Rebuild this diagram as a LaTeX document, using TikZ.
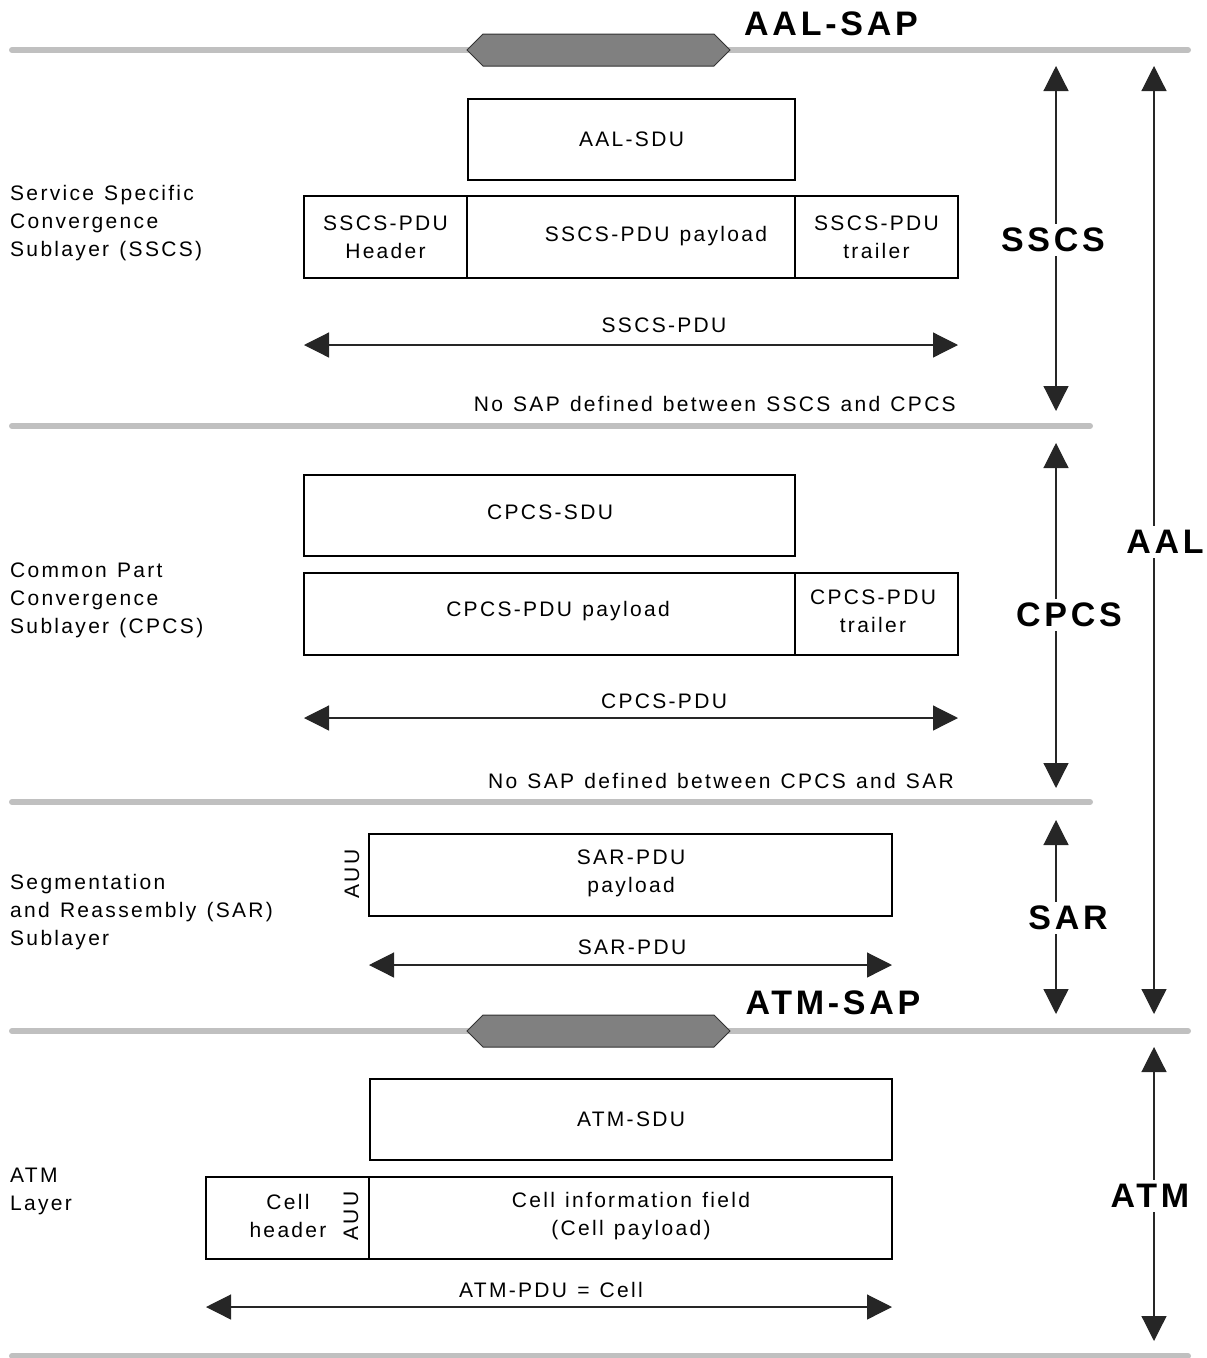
\documentclass[tikz,border=0pt]{standalone}
\usepackage{fontspec}
\setmainfont{Liberation Sans}[LetterSpace=11, WordSpace=1.25]
\newfontfamily\layerfont{Liberation Sans}[LetterSpace=11]
\usetikzlibrary{arrows.meta}
\definecolor{sapgray}{HTML}{C0C0C0}
\definecolor{hexgray}{HTML}{808080}
\tikzset{
  every picture/.style={x=1pt, y=-1pt},
  cell/.style={draw, line width=1.1pt, inner sep=0pt, outer sep=0pt, align=center,
    font=\fontsize{21}{28}\selectfont},
  txt/.style={inner sep=0pt, align=center, font=\fontsize{21}{28}\selectfont},
  sidetxt/.style={txt, align=left, anchor=west},
  layerlab/.style={inner sep=4pt, fill=white, font=\layerfont\bfseries\fontsize{34}{40}\selectfont},
  saplab/.style={inner sep=0pt, font=\layerfont\bfseries\fontsize{34}{40}\selectfont},
  sapline/.style={line width=6pt, color=sapgray, line cap=round},
  sapmark/.style={fill=hexgray, draw=black!80, line width=1pt},
  span/.style={line width=1.2pt, draw=black!85,
    {Triangle[length=25pt,width=25pt]}-{Triangle[length=25pt,width=25pt]}},
}
\begin{document}
\begin{tikzpicture}
\path[use as bounding box] (0,0) rectangle (1207,1358);

% service access point boundaries
\draw[sapline] (12,50) -- (1188,50);
\draw[sapline] (12,426) -- (1090,426);
\draw[sapline] (12,802) -- (1090,802);
\draw[sapline] (12,1031) -- (1188,1031);
\draw[sapline] (12,1356) -- (1188,1356);

% SAP markers
\draw[sapmark] (467,50) -- (483,34) -- (714,34) -- (730,50) -- (714,66) -- (483,66) -- cycle;
\draw[sapmark] (467,1031) -- (483,1015) -- (714,1015) -- (730,1031) -- (714,1047) -- (483,1047) -- cycle;
\node[saplab] (aalsap) at (831,24) {AAL-SAP};
\node[saplab] (atmsap) at (833,1003) {ATM-SAP};

% sublayer names
\node[sidetxt] (sscsname) at (10,223) {Service Specific\\Convergence\\Sublayer (SSCS)};
\node[sidetxt] (cpcsname) at (10,600) {Common Part\\Convergence\\Sublayer (CPCS)};
\node[sidetxt] (sarname) at (10,912) {Segmentation\\and Reassembly (SAR)\\Sublayer};
\node[sidetxt] (atmname) at (10,1191) {ATM\\Layer};

% SSCS
\node[cell, minimum width=327, minimum height=81] (aalsdu) at (631.5,139.5) {AAL-SDU};
\node[cell, minimum width=163, minimum height=82] (sscshdr) at (385.5,237) {SSCS-PDU\\Header};
\node[cell, minimum width=328, minimum height=82] (sscspay) at (631,237) {};
\node[cell, minimum width=163, minimum height=82] (sscstrl) at (876.5,237) {SSCS-PDU\\trailer};
\node[txt] (sscspaytxt) at (656,236) {SSCS-PDU payload};
\coordinate (sscsL) at (304,345);
\coordinate (sscsR) at (958,345);
\draw[span] (sscsL) -- (sscsR);
\node[txt] (sscspdu) at (664,325) {SSCS-PDU};
\node[txt, anchor=east] (nosap1) at (956,404) {No SAP defined between SSCS and CPCS};

% CPCS
\node[cell, minimum width=491, minimum height=81] (cpcssdu) at (549.5,515.5) {};
\node[txt] (cpcssdutxt) at (550,512) {CPCS-SDU};
\node[cell, minimum width=491, minimum height=82] (cpcspay) at (549.5,614) {};
\node[txt] (cpcspaytxt) at (558,611) {CPCS-PDU payload};
\node[cell, minimum width=163, minimum height=82] (cpcstrl) at (876.5,614) {};
\node[txt] (cpcstrltxt) at (873,611) {CPCS-PDU\\trailer};
\coordinate (cpcsL) at (304,718);
\coordinate (cpcsR) at (958,718);
\draw[span] (cpcsL) -- (cpcsR);
\node[txt] (cpcspdu) at (664,701) {CPCS-PDU};
\node[txt, anchor=east] (nosap2) at (954,781) {No SAP defined between CPCS and SAR};

% SAR
\node[cell, minimum width=523, minimum height=82] (sarpay) at (630.5,875) {};
\node[txt] (sarpaytxt) at (631,873) {SAR-PDU\\payload};
\node[txt, rotate=90] (auu1) at (352,874) {AUU};
\coordinate (sarL) at (369,965);
\coordinate (sarR) at (892,965);
\draw[span] (sarL) -- (sarR);
\node[txt] (sarpdu) at (632,947) {SAR-PDU};

% ATM layer
\node[cell, minimum width=522, minimum height=81] (atmsdu) at (631,1119.5) {ATM-SDU};
\node[cell, minimum width=163, minimum height=82] (cellhdr) at (287.5,1218) {};
\node[txt] (cellhdrtxt) at (288,1216) {Cell\\header};
\node[cell, minimum width=523, minimum height=82] (cellinfo) at (630.5,1218) {};
\node[txt] (cellinfotxt) at (631,1216) {Cell information field\\(Cell payload)};
\node[txt, rotate=90] (auu2) at (351,1216) {AUU};
\coordinate (cellL) at (206,1307);
\coordinate (cellR) at (892,1307);
\draw[span] (cellL) -- (cellR);
\node[txt] (atmpdu) at (551,1290) {ATM-PDU = Cell};

% layer extents
\coordinate (sscsT) at (1056,66);
\coordinate (sscsB) at (1056,411);
\coordinate (cpcsT) at (1056,443);
\coordinate (cpcsB) at (1056,788);
\coordinate (sarT) at (1056,820);
\coordinate (sarB) at (1056,1014);
\coordinate (aalT) at (1154,66);
\coordinate (aalB) at (1154,1014);
\coordinate (atmT) at (1154,1047);
\coordinate (atmB) at (1154,1341);
\draw[span] (sscsT) -- (sscsB);
\draw[span] (cpcsT) -- (cpcsB);
\draw[span] (sarT) -- (sarB);
\draw[span] (aalT) -- (aalB);
\draw[span] (atmT) -- (atmB);
\node[layerlab] (sscslab) at (1053,240) {SSCS};
\node[layerlab] (cpcslab) at (1069,615) {CPCS};
\node[layerlab] (sarlab) at (1068,918) {SAR};
\node[layerlab] (aallab) at (1165,542) {AAL};
\node[layerlab] (atmlab) at (1150,1196) {ATM};
\end{tikzpicture}
\end{document}
